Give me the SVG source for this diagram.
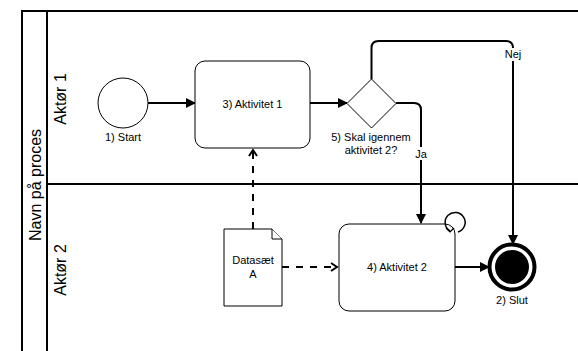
<svg xmlns="http://www.w3.org/2000/svg" width="578" height="351" viewBox="0 0 578 351">
<defs>
<style>
text{font-family:"Liberation Sans",Arial,sans-serif;fill:#000}
.lbl{font-size:11px}
.lane{font-size:16px}
.node{fill:#fff;stroke:#000;stroke-width:1}
.edge{fill:none;stroke:#000;stroke-width:2}
.dash{fill:none;stroke:#000;stroke-width:2;stroke-dasharray:7 7}
</style>
<marker id="arr" markerWidth="10" markerHeight="10" refX="9" refY="5" orient="auto" markerUnits="userSpaceOnUse" viewBox="0 0 10 10">
<path d="M0,0 L10,5 L0,10 Z" fill="#000"/>
</marker>
<marker id="open" markerWidth="10" markerHeight="10" refX="8" refY="5" orient="auto" markerUnits="userSpaceOnUse" viewBox="0 0 10 10">
<path d="M2,1 L8,5 L2,9" fill="none" stroke="#000" stroke-width="2"/>
</marker>
</defs>
<rect width="578" height="351" fill="#fff"/>
<g id="pool">
<path d="M22,360 V11 H590" fill="none" stroke="#000" stroke-width="2"/>
<line x1="47" y1="11" x2="47" y2="360" stroke="#000" stroke-width="2"/>
<line x1="47" y1="184" x2="590" y2="184" stroke="#000" stroke-width="2"/>
<text class="lane" transform="translate(41,185) rotate(-90)" text-anchor="middle">Navn på proces</text>
<text class="lane" transform="translate(66,99) rotate(-90)" text-anchor="middle">Aktør 1</text>
<text class="lane" transform="translate(66,270) rotate(-90)" text-anchor="middle">Aktør 2</text>
</g>
<g id="edges">
<line class="edge" x1="148" y1="103" x2="195" y2="103" marker-end="url(#arr)"/>
<line class="edge" x1="310" y1="103" x2="347" y2="103" marker-end="url(#arr)"/>
<path class="edge" d="M371.5,79 V48 Q371.5,41 378.5,41 H506 Q513,41 513,48 V244" marker-end="url(#arr)"/>
<path class="edge" d="M396,103 H414 Q421,103 421,110 V223" marker-end="url(#arr)"/>
<line class="edge" x1="455" y1="267" x2="489" y2="267" marker-end="url(#arr)"/>
<line class="dash" x1="253" y1="229" x2="253" y2="150" marker-end="url(#open)"/>
<line class="dash" x1="282" y1="267" x2="337" y2="267" marker-end="url(#open)"/>
<rect x="500" y="48" width="26" height="13" fill="#fff"/>
<text class="lbl" x="513" y="58" text-anchor="middle">Nej</text>
<rect x="412" y="147" width="18" height="13" fill="#fff"/>
<text class="lbl" x="421" y="158" text-anchor="middle">Ja</text>
</g>
<g id="start">
<circle class="node" cx="123" cy="103" r="25"/>
<text class="lbl" x="123" y="141" text-anchor="middle">1) Start</text>
</g>
<g id="aktivitet1">
<rect class="node" x="195" y="61" width="115" height="87" rx="10"/>
<text class="lbl" x="252.5" y="108" text-anchor="middle">3) Aktivitet 1</text>
</g>
<g id="gateway">
<path class="node" d="M371.5,79 L396,103.5 L371.5,128 L347,103.5 Z"/>
<text class="lbl" x="371" y="141" text-anchor="middle">5) Skal igennem</text>
<text class="lbl" x="371" y="154" text-anchor="middle">aktivitet 2?</text>
</g>
<g id="aktivitet2">
<rect class="node" x="339" y="224" width="116" height="87" rx="10"/>
<text class="lbl" x="397" y="271" text-anchor="middle">4) Aktivitet 2</text>
<path d="M450,231 A10,10 0 1 1 458,232" fill="none" stroke="#000" stroke-width="1.5"/>
<path d="M446,228 L450,232 L454,228" fill="none" stroke="#000" stroke-width="1.2"/>
</g>
<g id="datasaet">
<path class="node" d="M224,229 H272 L282,239 V306 H224 Z"/>
<path class="node" d="M272,229 V239 H282"/>
<text class="lbl" x="253" y="264" text-anchor="middle">Datasæt</text>
<text class="lbl" x="253" y="278" text-anchor="middle">A</text>
</g>
<g id="slut">
<circle cx="512" cy="267" r="22.5" fill="#fff" stroke="#000" stroke-width="4"/>
<circle cx="512" cy="267" r="17" fill="#000"/>
<text class="lbl" x="512" y="304" text-anchor="middle">2) Slut</text>
</g>
</svg>
